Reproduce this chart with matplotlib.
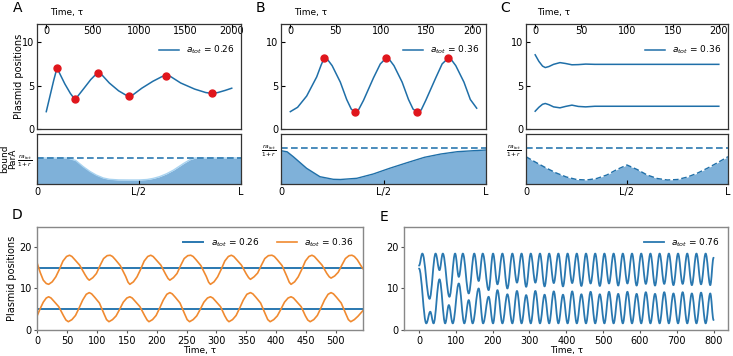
import matplotlib
matplotlib.use('Agg')
import matplotlib.pyplot as plt
from matplotlib.path import Path
from matplotlib.patches import PathPatch

BLUE = '#1f6fa8'
LINEBLUE = '#2a78b0'
ORANGE = '#f08a30'
RED = '#e0161c'
FILL = '#7fb1d9'

# ---------------- Panel A (a_tot = 0.26) ----------------
a_t = [0, 40, 80, 105, 119, 140, 200, 260, 295, 310, 330, 400, 480, 540, 563, 590,
       680, 780, 860, 895, 930, 1030, 1150, 1250, 1295, 1340, 1450, 1600, 1720, 1787,
       1850, 1930, 2000]
a_y = [2.0, 3.8, 5.6, 6.6, 7.0, 6.5, 5.2, 4.1, 3.6, 3.5, 3.65, 4.6, 5.7, 6.35, 6.5, 6.35,
       5.3, 4.4, 3.9, 3.8, 3.9, 4.7, 5.5, 6.05, 6.15, 6.05, 5.3, 4.6, 4.2, 4.1,
       4.2, 4.45, 4.7]
a_ext_t = [119, 310, 563, 895, 1295, 1787]
a_ext_y = [7.0, 3.5, 6.5, 3.8, 6.15, 4.1]
a_prof_x = [0, 0.15, 0.19, 0.227, 0.26, 0.29, 0.325, 0.355, 0.4, 0.45, 0.5, 0.54, 0.57,
            0.6, 0.635, 0.67, 0.72, 0.75, 0.775, 1.0]
a_prof_y = [0.26, 0.26, 0.235, 0.173, 0.125, 0.09, 0.06, 0.047, 0.041, 0.04, 0.04, 0.045,
            0.056, 0.073, 0.102, 0.14, 0.207, 0.243, 0.26, 0.26]
a_level = 0.26

# ---------------- Panel B (a_tot = 0.36) ----------------
b_t = [0, 8, 18, 29, 34, 37.3, 41, 46, 55, 62, 67, 71, 75, 80.5, 91.5, 99, 105.3, 109,
       114, 123, 130, 135, 139.7, 144, 149, 160, 167, 173.7, 177, 182, 191, 198, 205]
b_y = [2.0, 2.5, 3.8, 6.0, 7.4, 8.17, 8.0, 7.3, 5.4, 3.4, 2.3, 1.93, 2.2, 3.3, 5.9, 7.5,
       8.17, 8.0, 7.3, 5.4, 3.4, 2.3, 1.93, 2.2, 3.3, 5.9, 7.5, 8.17, 8.0, 7.3, 5.4, 3.4, 2.4]
b_ext_t = [37.3, 71, 105.3, 139.7, 173.7]
b_ext_y = [8.17, 1.93, 8.17, 1.93, 8.17]
b_prof_x = [0, 0.03, 0.06, 0.125, 0.19, 0.255, 0.29, 0.37, 0.45, 0.53, 0.615, 0.7, 0.78,
            0.86, 0.94, 1.0]
b_prof_y = [0.333, 0.322, 0.273, 0.157, 0.073, 0.047, 0.045, 0.057, 0.1, 0.157, 0.213,
            0.267, 0.30, 0.323, 0.333, 0.34]
b_level = 0.36

# ---------------- Panel C (a_tot = 0.36) ----------------
c_t = [0, 4, 8, 11, 15, 20, 27, 33, 40, 47, 55, 65, 80, 200]
c_top = [8.55, 7.8, 7.25, 7.08, 7.2, 7.45, 7.65, 7.55, 7.4, 7.42, 7.48, 7.45, 7.45, 7.45]
c_bot = [2.05, 2.5, 2.85, 2.94, 2.8, 2.55, 2.44, 2.6, 2.75, 2.6, 2.55, 2.62, 2.62, 2.62]
c_prof_x = [0, 0.05, 0.1, 0.15, 0.2, 0.25, 0.3, 0.35, 0.4, 0.45, 0.5, 0.55, 0.6, 0.65,
            0.7, 0.75, 0.8, 0.85, 0.9, 0.95, 1.0]
c_prof_y = [0.273, 0.215, 0.16, 0.11, 0.07, 0.045, 0.04, 0.055, 0.09, 0.145, 0.19, 0.145,
            0.09, 0.055, 0.04, 0.045, 0.07, 0.11, 0.16, 0.215, 0.273]
c_level = 0.36

# ---------------- Panel D ----------------
d_blue_t = [0, 545]
d_blue_top = [15.0, 15.0]
d_blue_bot = [5.0, 5.0]
d_top_t = [0, 5, 10, 15, 19, 25, 31, 37, 43, 49, 54, 58, 63, 71, 80, 84, 87, 93, 99, 105,
           111, 117, 122, 126, 131, 139, 148, 152, 155, 161, 167, 173, 179, 185, 190, 194,
           199, 207, 215, 219, 222, 228, 234, 240, 246, 252, 257, 261, 266, 274, 283, 287,
           290, 296, 302, 308, 314, 320, 325, 329, 334, 342, 350, 354, 357, 363, 369, 375,
           381, 387, 393, 397, 402, 410, 418, 422, 425, 431, 437, 443, 449, 455, 460, 464,
           469, 477, 485, 489, 492, 498, 504, 510, 516, 522, 527, 531, 536, 545]
d_top_y = [16.0, 13.8, 12.0, 11.2, 11.0, 11.6, 12.8, 14.6, 16.6, 17.7, 18.0, 17.7, 16.9,
           15.6, 13.3, 12.4, 12.0, 12.6, 13.6, 15.5, 17.2, 17.9, 18.0, 17.7, 16.9, 15.5,
           12.9, 11.5, 11.0, 11.6, 12.8, 14.6, 16.6, 17.7, 18.0, 17.7, 16.9, 15.6, 13.4,
           12.4, 12.0, 12.6, 13.6, 15.5, 17.2, 17.9, 18.0, 17.7, 16.9, 15.5, 12.9, 11.5,
           11.0, 11.6, 12.8, 14.6, 16.6, 17.7, 18.0, 17.7, 16.9, 15.6, 13.5, 12.6, 12.2,
           12.8, 13.7, 15.5, 17.2, 17.9, 18.0, 17.7, 16.9, 15.5, 12.9, 11.5, 11.0, 11.6,
           12.8, 14.6, 16.6, 17.7, 18.0, 17.7, 16.9, 15.6, 13.6, 12.8, 12.5, 13.0, 13.9,
           15.6, 17.2, 17.9, 18.0, 17.7, 16.9, 14.8]
d_bot_t = [0, 5, 10, 15, 19, 23, 28, 36, 44, 48, 52, 58, 64, 70, 76, 82, 87, 91, 96, 104,
           112, 116, 120, 126, 132, 138, 144, 150, 155, 159, 164, 172, 180, 184, 187, 193,
           199, 205, 211, 217, 222, 226, 231, 239, 247, 251, 255, 261, 267, 273, 279, 285,
           290, 294, 299, 307, 314, 318, 321, 327, 333, 339, 345, 351, 357, 361, 366, 374,
           382, 386, 390, 396, 402, 408, 414, 420, 425, 429, 434, 442, 449, 453, 457, 463,
           469, 475, 481, 487, 492, 496, 501, 509, 517, 521, 525, 531, 537, 545]
d_bot_y = [3.5, 5.2, 6.7, 7.7, 8.0, 7.7, 6.9, 5.6, 3.4, 2.4, 2.0, 2.5, 3.5, 5.3, 7.2, 8.6,
           9.0, 8.7, 7.9, 6.5, 3.8, 2.5, 2.0, 2.5, 3.4, 5.0, 6.7, 7.7, 8.0, 7.7, 6.9, 5.6,
           3.4, 2.4, 2.0, 2.5, 3.5, 5.3, 7.2, 8.6, 9.0, 8.7, 7.9, 6.5, 3.8, 2.5, 2.0, 2.5,
           3.4, 5.0, 6.7, 7.7, 8.0, 7.7, 6.9, 5.6, 3.4, 2.4, 2.0, 2.5, 3.5, 5.3, 7.2, 8.6,
           9.0, 8.7, 7.9, 6.5, 3.8, 2.5, 2.0, 2.5, 3.4, 5.0, 6.7, 7.7, 8.0, 7.7, 6.9, 5.6,
           3.4, 2.4, 2.0, 2.5, 3.5, 5.3, 7.2, 8.6, 9.0, 8.7, 7.9, 6.5, 3.8, 2.5, 2.0, 2.5,
           3.3, 4.6]

# ---------------- Panel E (a_tot = 0.76): turning points of the two positions ----------------
e_top_t = [0, 9, 28.6, 45, 55.6, 64.6, 82.6, 98, 108, 119, 135, 150, 162, 173, 189, 201,
           213, 226.5, 240, 253.5, 266, 278.5, 291, 303.5, 316, 328.5, 341, 353.5, 366,
           378.5, 391, 403.5, 416, 428.5, 441, 453.5, 466, 478.5, 491, 503.5, 516, 528.5,
           541, 553.5, 566, 578.5, 591, 603.5, 616, 628.5, 641, 653.5, 666, 678.5, 691,
           703.5, 716, 728.5, 741, 753.5, 766, 778.5, 791, 800]
e_top_y = [15.5, 18.4, 7.5, 18.4, 14.4, 18.4, 8.0, 18.4, 12.8, 18.4, 8.8, 18.4, 11.8, 18.4,
           9.6, 18.4, 11.0, 18.4, 10.0, 18.4, 11.4, 18.4, 10.4, 18.4, 11.4, 18.4, 10.5, 18.4,
           11.3, 18.4, 10.5, 18.4, 11.3, 18.4, 10.6, 18.4, 11.2, 18.4, 10.6, 18.4, 11.2, 18.4,
           10.7, 18.4, 11.2, 18.4, 10.7, 18.4, 11.1, 18.4, 10.7, 18.4, 11.1, 18.4, 10.8, 18.4,
           11.1, 18.4, 10.8, 18.4, 11.0, 18.4, 10.8, 17.4]
e_bot_t = [0, 19.7, 30.5, 39.5, 55.6, 71, 81, 91.6, 108, 123, 135, 145.6, 162, 174, 189,
           201, 213, 226.5, 240, 253.5, 266, 278.5, 291, 303.5, 316, 328.5, 341, 353.5, 366,
           378.5, 391, 403.5, 416, 428.5, 441, 453.5, 466, 478.5, 491, 503.5, 516, 528.5,
           541, 553.5, 566, 578.5, 591, 603.5, 616, 628.5, 641, 653.5, 666, 678.5, 691,
           703.5, 716, 728.5, 741, 753.5, 766, 778.5, 791, 800]
e_bot_y = [14.8, 1.6, 4.4, 1.6, 12.2, 1.6, 6.0, 1.6, 11.2, 1.6, 7.2, 1.6, 10.0, 1.6, 8.0,
           1.6, 9.6, 1.6, 8.6, 1.6, 9.4, 1.6, 8.4, 1.6, 9.4, 1.6, 8.5, 1.6, 9.3, 1.6, 8.5, 1.6,
           9.3, 1.6, 8.6, 1.6, 9.2, 1.6, 8.6, 1.6, 9.2, 1.6, 8.7, 1.6, 9.2, 1.6, 8.7, 1.6,
           9.1, 1.6, 8.7, 1.6, 9.1, 1.6, 8.8, 1.6, 9.1, 1.6, 8.8, 1.6, 9.0, 1.6, 8.8, 2.4]

TS = 7  # tick label size

fig = plt.figure(figsize=(7.33, 3.56), dpi=100)
W, H = 733.0, 356.0


def rect(x0, y0, x1, y1):
    return [x0 / W, 1 - y1 / H, (x1 - x0) / W, (y1 - y0) / H]


def smooth_through(ax, t, y, **kw):
    """Draw a smooth (Bezier) curve through turning points, in data coordinates."""
    verts = [(t[0], y[0])]
    codes = [Path.MOVETO]
    for i in range(len(t) - 1):
        dt = t[i + 1] - t[i]
        verts += [(t[i] + 0.37 * dt, y[i]), (t[i + 1] - 0.37 * dt, y[i + 1]),
                  (t[i + 1], y[i + 1])]
        codes += [Path.CURVE4] * 3
    ax.add_patch(PathPatch(Path(verts, codes), fill=False, transform=ax.transData,
                           capstyle='round', joinstyle='round', **kw))


def style_top(ax, xticks, xlim):
    ax.set_xlim(*xlim)
    ax.set_ylim(0, 12.1)
    ax.set_xticks(xticks)
    ax.set_yticks([0, 5, 10])
    ax.xaxis.set_ticks_position('top')
    ax.tick_params(axis='x', direction='in', pad=-9, labelsize=TS, length=3,
                   top=True, bottom=False, labeltop=True, labelbottom=False)
    ax.tick_params(axis='y', direction='in', labelsize=TS, length=3, pad=2)
    for s in ax.spines.values():
        s.set_color('#333333')
        s.set_linewidth(0.9)


def style_bottom(ax, level):
    ax.set_xlim(0, 1)
    ax.set_ylim(0, 0.5)
    ax.set_xticks([0, 0.5, 1])
    ax.set_xticklabels(['0', 'L/2', 'L'])
    ax.set_yticks([level])
    ax.set_yticklabels([r'$\frac{ra_{tot}}{1+r}$'])
    ax.tick_params(axis='x', direction='in', labelsize=TS, length=3, pad=2)
    ax.tick_params(axis='y', direction='in', labelsize=6, length=0, pad=3)
    ax.axhline(level, color=LINEBLUE, ls='--', lw=1.2, dashes=(4, 2))
    for s in ax.spines.values():
        s.set_color('#333333')
        s.set_linewidth(0.9)


# ---- A ----
axA = fig.add_axes(rect(37, 24, 241, 129))
axA.plot(a_t, a_y, color=BLUE, lw=1.1, label=r'$a_{tot}$ = 0.26')
axA.plot(a_ext_t, a_ext_y, 'o', color=RED, ms=5, zorder=3)
style_top(axA, [0, 500, 1000, 1500, 2000], (-100, 2100))
axA.legend(loc='upper right', bbox_to_anchor=(1.0, 0.87), frameon=False, fontsize=6.5,
           handlelength=2.2, borderaxespad=0.3)
axA.set_ylabel('Plasmid positions', fontsize=TS)
axA.yaxis.set_label_coords(-0.066, 0.5)

axAb = fig.add_axes(rect(37, 134, 241, 184))
axAb.fill_between(a_prof_x, 0, a_prof_y, color=FILL, lw=0)
axAb.plot(a_prof_x, a_prof_y, color='#a9d3f0', lw=1.0)
style_bottom(axAb, a_level)
axAb.set_ylabel('bound\nParA', fontsize=6.5, linespacing=0.9)
axAb.yaxis.set_label_coords(-0.095, 0.5)

# ---- B ----
axB = fig.add_axes(rect(281, 24, 486, 129))
axB.plot(b_t, b_y, color=BLUE, lw=1.1, label=r'$a_{tot}$ = 0.36')
axB.plot(b_ext_t, b_ext_y, 'o', color=RED, ms=5, zorder=3)
style_top(axB, [0, 50, 100, 150, 200], (-10.25, 215.25))
axB.legend(loc='upper right', bbox_to_anchor=(1.0, 0.87), frameon=False, fontsize=6.5,
           handlelength=2.2, borderaxespad=0.3)

axBb = fig.add_axes(rect(281, 134, 486, 184))
axBb.fill_between(b_prof_x, 0, b_prof_y, color=FILL, lw=0)
axBb.plot(b_prof_x, b_prof_y, color=BLUE, lw=1.0)
style_bottom(axBb, b_level)

# ---- C ----
axC = fig.add_axes(rect(526, 24, 728, 129))
axC.plot(c_t, c_top, color=BLUE, lw=1.1, label=r'$a_{tot}$ = 0.36')
axC.plot(c_t, c_bot, color=BLUE, lw=1.1)
style_top(axC, [0, 50, 100, 150, 200], (-10, 210))
axC.legend(loc='upper right', bbox_to_anchor=(1.0, 0.87), frameon=False, fontsize=6.5,
           handlelength=2.2, borderaxespad=0.3)

axCb = fig.add_axes(rect(526, 134, 728, 184))
axCb.fill_between(c_prof_x, 0, c_prof_y, color=FILL, lw=0)
axCb.plot(c_prof_x, c_prof_y, color=BLUE, lw=1.0, ls='--', dashes=(4, 2))
style_bottom(axCb, c_level)

for x, label in [(50, 'Time, τ'), (294, 'Time, τ'), (537, 'Time, τ')]:
    fig.text(x / W, 1 - 13 / H, label, fontsize=6.5, ha='left', va='center')


def style_low(ax):
    ax.set_ylim(0, 24.8)
    ax.set_yticks([0, 10, 20])
    ax.tick_params(labelsize=TS, length=2.5, pad=1.5, color='#555555')
    for s in ax.spines.values():
        s.set_color('#888888')
        s.set_linewidth(1.0)
    ax.set_xlabel('Time, τ', fontsize=6.5, labelpad=0.5)


# ---- D ----
axD = fig.add_axes(rect(37.3, 227, 362.7, 330))
axD.plot(d_blue_t, d_blue_top, color=LINEBLUE, lw=1.4, label=r'$a_{tot}$ = 0.26')
axD.plot(d_blue_t, d_blue_bot, color=LINEBLUE, lw=1.4)
axD.plot(d_top_t, d_top_y, color=ORANGE, lw=1.2, label=r'$a_{tot}$ = 0.36')
axD.plot(d_bot_t, d_bot_y, color=ORANGE, lw=1.2)
axD.set_xlim(0, 545)
axD.set_xticks(list(range(0, 501, 50)))
style_low(axD)
axD.legend(loc='upper right', ncol=2, frameon=False, fontsize=6.5, handlelength=2.2,
           columnspacing=2.0, borderaxespad=0.6)
axD.set_ylabel('Plasmid positions', fontsize=TS)
axD.yaxis.set_label_coords(-0.062, 0.5)

# ---- E ----
axE = fig.add_axes(rect(404.3, 227, 728.3, 330))
smooth_through(axE, e_top_t, e_top_y, color=LINEBLUE, lw=1.3)
smooth_through(axE, e_bot_t, e_bot_y, color=LINEBLUE, lw=1.3)
axE.plot([], [], color=LINEBLUE, lw=1.3, label=r'$a_{tot}$ = 0.76')
axE.set_xlim(-40, 840)
axE.set_xticks(list(range(0, 801, 100)))
style_low(axE)
axE.legend(loc='upper right', frameon=False, fontsize=6.5, handlelength=2.2,
           borderaxespad=0.6)

for x, y, letter in [(13, 8, 'A'), (256, 8, 'B'), (500, 8, 'C'), (12, 215, 'D'), (380, 217, 'E')]:
    fig.text(x / W, 1 - y / H, letter, fontsize=10, ha='left', va='center')

fig.savefig('out.png', dpi=100)
